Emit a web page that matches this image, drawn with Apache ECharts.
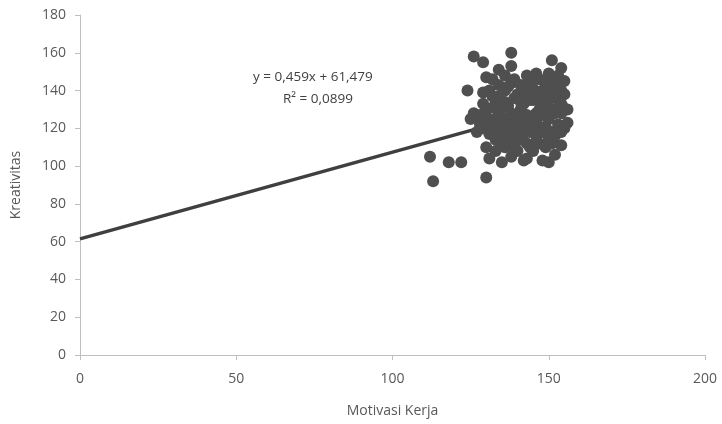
<!DOCTYPE html>
<html>
<head>
<meta charset="utf-8">
<script src="https://cdn.jsdelivr.net/npm/echarts@6/dist/echarts.min.js"></script>
<style>html,body{margin:0;padding:0;background:#fff}#c{width:722px;height:424px}</style>
</head>
<body>
<div id="c"></div>
<script>
// Motivasi Kerja (x) and Kreativitas (y)
var motivasi = [112,113,118,122,126,124,130,129,134,130,129,138,138,138,151,154,146,150,154,156,156,154,150,142,148,126,125,128,127,
130,131,132,133,134,135,136,137,138,139,140,141,142,143,144,145,146,147,148,149,150,151,152,153,154,155,
130,131,133,135,136,138,140,141,143,145,147,149,151,152,
131,132,134,136,139,141,143,145,147,149,151,153,155,
129,132,134,135,137,139,140,142,144,146,148,150,152,153,154,155,
129,131,133,135,137,139,142,144,146,148,150,152,154,
130,133,136,138,141,143,145,147,149,151,153,144,146,148,150,136,134,139,142,132,137,
128,140,147,152,135,143,149,133,141,146,139,144];
var kreativitas = [105,92,102,102,158,140,94,155,151,147,139,160,153,144,156,152,149,149,140,130,123,111,102,103,103,128,125,122,118,
130,125,120,135,128,118,140,132,125,115,138,130,122,112,145,135,128,120,140,132,125,118,145,135,128,120,
110,104,108,102,110,105,108,114,104,108,112,110,112,106,
140,146,143,148,146,143,148,141,146,144,142,148,138,
133,131,122,126,119,122,127,133,118,124,127,135,128,122,133,145,
120,117,114,112,115,110,117,110,116,118,115,116,118,
126,124,121,128,124,127,122,130,121,130,142,135,138,134,140,134,137,136,140,137,142,
127,119,136,139,131,139,128,116,134,113,112,126];
var xTicks = [0, 50, 100, 150, 200];
var yTicks = [0, 20, 40, 60, 80, 100, 120, 140, 160, 180];
var slope = 0.459, intercept = 61.479;
var trendX = [0, 156];
var eqText = ['y = 0,459x + 61,479', 'R\u00b2 = 0,0899'];

var pts = motivasi.map(function (x, i) { return [x, kreativitas[i]]; });
var trend = trendX.map(function (x) { return [x, slope * x + intercept]; });

var font = 'Open Sans';
var chart = echarts.init(document.getElementById('c'));
chart.setOption({
  animation: false,
  grid: { left: 80, right: 17, top: 15, bottom: 69 },
  xAxis: {
    type: 'value', min: xTicks[0], max: xTicks[xTicks.length - 1], interval: 50,
    name: 'Motivasi Kerja', nameLocation: 'middle', nameGap: 49,
    nameTextStyle: { fontFamily: font, fontSize: 14, color: '#595959' },
    axisLine: { lineStyle: { color: '#bfbfbf', width: 1 } },
    axisTick: { show: true, length: 5, lineStyle: { color: '#bfbfbf' } },
    axisLabel: { margin: 17, fontFamily: font, fontSize: 14, color: '#595959' },
    splitLine: { show: false }
  },
  yAxis: {
    type: 'value', min: yTicks[0], max: yTicks[yTicks.length - 1], interval: 20,
    name: 'Kreativitas', nameLocation: 'middle', nameGap: 57, nameRotate: 90,
    nameTextStyle: { fontFamily: font, fontSize: 14, color: '#595959' },
    axisLine: { show: true, lineStyle: { color: '#bfbfbf', width: 1 } },
    axisTick: { show: true, length: 5, lineStyle: { color: '#bfbfbf' } },
    axisLabel: { margin: 14, fontFamily: font, fontSize: 14, color: '#595959' },
    splitLine: { show: false }
  },
  series: [
    {
      type: 'line', data: trend, symbol: 'none', z: 1,
      lineStyle: { color: '#3f3f3f', width: 3.5 }
    },
    {
      type: 'scatter', data: pts, symbol: 'circle', symbolSize: 12, z: 2,
      itemStyle: { color: '#4f4f4f', opacity: 1 }
    }
  ],
  graphic: [
    { type: 'text', left: 253, top: 70, style: { text: eqText[0], font: '13.5px "Open Sans"', fill: '#404040' } },
    { type: 'text', left: 283, top: 92, style: { text: eqText[1], font: '13.5px "Open Sans"', fill: '#404040' } }
  ]
});
</script>
</body>
</html>
